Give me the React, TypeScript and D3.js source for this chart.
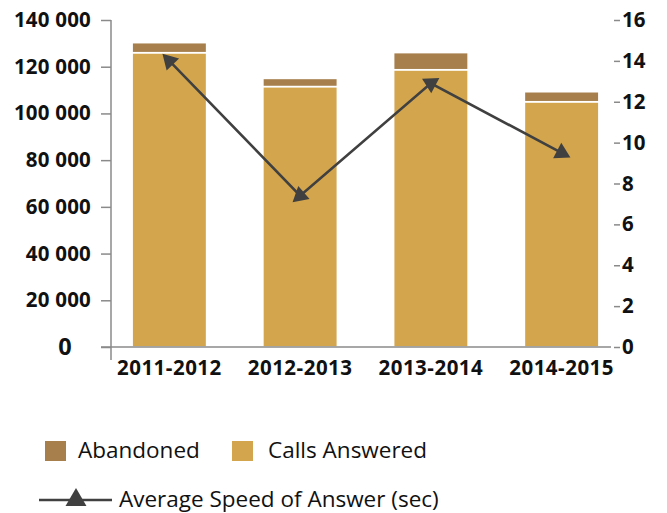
import React, { useEffect, useRef } from 'react';
import * as d3 from 'd3';

const periods = ['2011-2012', '2012-2013', '2013-2014', '2014-2015'];
const callsAnswered = [126000, 111500, 118700, 105000];
const abandoned = [4300, 3500, 7350, 4300];
const speedOfAnswer = [14, 7.4, 12.9, 9.5];
const leftTicks = [0, 20000, 40000, 60000, 80000, 100000, 120000, 140000];
const rightTicks = [0, 2, 4, 6, 8, 10, 12, 14, 16];

const W = 667;
const H = 513;
const ANSWERED = '#d3a64e';
const ABANDONED = '#a67f4c';
const AXIS = '#8a8a8a';
const LINE = '#404040';
const FONT = "'Open Sans', 'Noto Sans', sans-serif";

export default function App() {
  const svgRef = useRef<SVGSVGElement>(null);

  useEffect(() => {
    const svg = d3.select(svgRef.current);
    svg.selectAll('*').remove();

    const x = d3.scaleBand().domain(periods).range([104, 627]).paddingInner(0.43).paddingOuter(0.215);
    const y = d3.scaleLinear().domain([0, 140000]).range([347, 20]);
    const y2 = d3.scaleLinear().domain([0, 16]).range([347, 20]);

    // stacked bars
    const rows = periods.map((p, i) => ({ period: p, answered: callsAnswered[i], abandoned: abandoned[i] }));
    const stacked = d3.stack<any>().keys(['answered', 'abandoned'])(rows);
    const colors: Record<string, string> = { answered: ANSWERED, abandoned: ABANDONED };

    svg.append('g')
      .selectAll('g')
      .data(stacked)
      .join('g')
      .attr('fill', d => colors[d.key])
      .selectAll('rect')
      .data(d => d)
      .join('rect')
      .attr('x', d => x(d.data.period)!)
      .attr('width', x.bandwidth())
      .attr('y', d => y(d[1]))
      .attr('height', d => y(d[0]) - y(d[1]))
      .attr('stroke', '#fff')
      .attr('stroke-width', 1.6);

    // left axis
    const fmt = (v: number) => d3.format(',')(v).replace(/,/g, ' ');
    const left = svg.append('g')
      .attr('transform', 'translate(111,0)')
      .call(d3.axisLeft(y).tickValues(leftTicks).tickSize(10).tickPadding(10).tickFormat(v => fmt(+v)));
    left.select('.domain').remove();
    left.selectAll('.tick line').attr('stroke', AXIS).attr('stroke-width', 1.5);
    left.selectAll('.tick text')
      .attr('fill', '#111')
      .attr('font-family', FONT)
      .attr('font-weight', 700)
      .attr('font-size', 20.5)
      .attr('letter-spacing', 0.2);
    left.selectAll('.tick')
      .filter((d: any) => d === 0)
      .select('text')
      .attr('font-size', 23.5)
      .attr('x', -39);

    svg.append('line')
      .attr('x1', 111).attr('x2', 111)
      .attr('y1', y(140000)).attr('y2', y(0) + 13)
      .attr('stroke', AXIS).attr('stroke-width', 1.5);

    // x axis
    const bottom = svg.append('g')
      .attr('transform', `translate(0,${y(0)})`)
      .call(d3.axisBottom(x).tickSize(0).tickPadding(13));
    bottom.select('.domain').remove();
    bottom.selectAll('.tick text')
      .attr('fill', '#111')
      .attr('font-family', FONT)
      .attr('font-weight', 700)
      .attr('font-size', 20.5)
      .attr('letter-spacing', 0.5);
    svg.append('line')
      .attr('x1', 101).attr('x2', 611)
      .attr('y1', y(0)).attr('y2', y(0))
      .attr('stroke', AXIS).attr('stroke-width', 1.5);

    // right axis
    const right = svg.append('g')
      .attr('transform', 'translate(614,0)')
      .call(d3.axisRight(y2).tickValues(rightTicks).tickSize(6).tickPadding(2));
    right.select('.domain').remove();
    right.selectAll('.tick line').attr('stroke', AXIS).attr('stroke-width', 1.5);
    right.selectAll('.tick text')
      .attr('fill', '#111')
      .attr('font-family', FONT)
      .attr('font-weight', 700)
      .attr('font-size', 20.5);

    // speed line with oriented triangle markers
    const pts = periods.map((p, i) => [x(p)! + x.bandwidth() / 2, y2(speedOfAnswer[i])] as [number, number]);
    svg.append('path')
      .attr('d', d3.line()(pts))
      .attr('fill', 'none')
      .attr('stroke', LINE)
      .attr('stroke-width', 2.6);

    const tri = d3.symbol().type(d3.symbolTriangle).size(130);
    svg.append('g')
      .selectAll('path')
      .data(pts)
      .join('path')
      .attr('d', tri()!)
      .attr('fill', LINE)
      .attr('transform', (p, i) => {
        const q = i < pts.length - 1 ? pts[i + 1] : pts[i - 1];
        const ang = (Math.atan2(p[1] - q[1], p[0] - q[0]) * 180) / Math.PI + 90;
        return `translate(${p[0]},${p[1]}) rotate(${ang})`;
      });

    // legend
    const lg = svg.append('g').attr('font-family', FONT).attr('font-size', 22.5).attr('fill', '#111');
    const items = [
      { label: 'Abandoned', color: ABANDONED, x: 45, tx: 78 },
      { label: 'Calls Answered', color: ANSWERED, x: 232, tx: 268 },
    ];
    items.forEach(it => {
      lg.append('rect').attr('x', it.x).attr('y', 441).attr('width', 21).attr('height', 20).attr('fill', it.color);
      lg.append('text').attr('x', it.tx).attr('y', 458).text(it.label);
    });
    lg.append('line').attr('x1', 39).attr('x2', 112).attr('y1', 500).attr('y2', 500)
      .attr('stroke', LINE).attr('stroke-width', 2.4);
    lg.append('path').attr('d', d3.symbol().type(d3.symbolTriangle).size(190)()!)
      .attr('transform', 'translate(76,500)').attr('fill', LINE);
    lg.append('text').attr('x', 119).attr('y', 507).text('Average Speed of Answer (sec)');
  }, []);

  return (
    <svg
      ref={svgRef}
      width={W}
      height={H}
      style={{ position: 'absolute', left: 0, top: 0, background: '#fff' }}
    />
  );
}
